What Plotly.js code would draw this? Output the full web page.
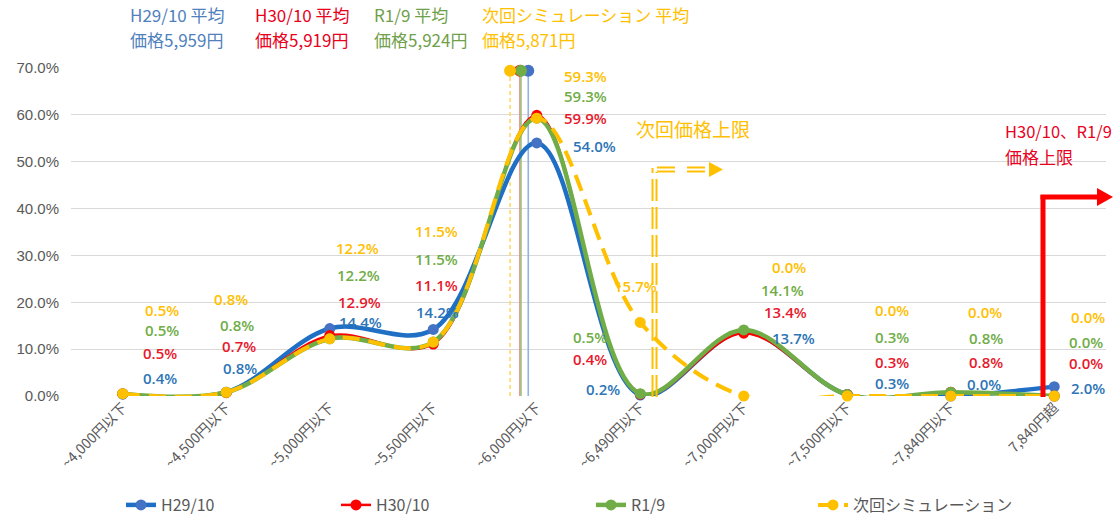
<!DOCTYPE html>
<html><head><meta charset="utf-8">
<script src="https://cdn.plot.ly/plotly-3.0.1.min.js"></script>
<style>html,body{margin:0;padding:0;background:#fff}#chart{width:1118px;height:516px}</style>
</head><body><div id="chart"></div>
<script>
// ---- data ----
const categories = ['~4,000円以下','~4,500円以下','~5,000円以下','~5,500円以下','~6,000円以下','~6,490円以下','~7,000円以下','~7,500円以下','~7,840円以下','7,840円超'];
const binUpper = [4000,4500,5000,5500,6000,6490,7000,7500,7840];
const seriesNames = ['H29/10','H30/10','R1/9','次回シミュレーション'];
const h29 = [0.4,0.8,14.4,14.2,54.0,0.2,13.7,0.3,0.0,2.0];
const h30 = [0.5,0.7,12.9,11.1,59.9,0.4,13.4,0.3,0.8,0.0];
const r19 = [0.5,0.8,12.2,11.5,59.3,0.5,14.1,0.3,0.8,0.0];
const sim = [0.5,0.8,12.2,11.5,59.3,15.7,0.0,0.0,0.0,0.0];
const avgPrice = [5959,5919,5924,5871];
const avgLabelNames = ['H29/10 平均','H30/10 平均','R1/9 平均','次回シミュレーション 平均'];

// ---- styles / label placement (layout only) ----
const lineColors = ['#1F6FC5','#FF0000','#70AD47','#FFC000'];
const markerColors = ['#4472C4','#FF0000','#70AD47','#FFC000'];
const labelColors = ['#2E75B6','#E8192C','#70AD47','#FFC000'];
const avgTextColors = ['#4F81BD','#E8001C','#6FA04A','#FFC000'];
const avgLineColors = ['#8FB4E3','#F08080','#9CC781','#FFD966'];
const labelY = [
  [3.8,6.0,15.8,17.9,53.4,1.6,12.4,2.7,2.6,1.8],
  [9.2,10.7,20.1,23.7,59.3,7.8,17.9,7.2,7.3,7.0],
  [14.1,15.2,25.8,29.2,64.0,12.6,22.6,12.6,12.4,11.5],
  [18.4,20.7,31.6,35.2,68.2,23.5,27.5,18.3,18.0,16.8]
];
const labelDX = [
  [0.36,0.13,0.30,0.04,0.56,-0.36,0.48,0.43,0.32,0.33],
  [0.36,0.12,0.29,0.03,0.47,-0.49,0.40,0.43,0.34,0.31],
  [0.38,0.10,0.28,0.03,0.47,-0.49,0.37,0.43,0.34,0.31],
  [0.38,0.05,0.27,0.03,0.47,-0.05,0.44,0.43,0.33,0.33]
];

function pricePos(p){
  for(let i=1;i<binUpper.length;i++){
    if(p<=binUpper[i]) return (i-1)+(p-binUpper[i-1])/(binUpper[i]-binUpper[i-1]);
  }
  return binUpper.length-1;
}

// pixel -> paper helpers for decorations
const L=71, R=12, T=68, B=120, W=1118-L-R, H=516-T-B;
const px = p => (p-L)/W;
const py = p => (516-B-p)/H;

const xs = categories.map((c,i)=>i);
const allSeries = [h29,h30,r19,sim];
const widths = [4.5,2.5,4.5,4];
const legendIds = ['legend','legend2','legend3','legend4'];
const legendTextX = [163,378,633,855];
const traces = [];

// average price drop lines
avgPrice.forEach((p,k)=>{
  const pos = pricePos(p);
  traces.push({
    x:[pos,pos], y:[0,69.4], mode:'lines+markers', showlegend:false, hoverinfo:'skip',
    cliponaxis:false,
    line:{color:avgLineColors[k], width:1.6, dash: k===3?'4px,3px':'solid'},
    marker:{size:[0,12], color:markerColors[k], opacity:1, line:{width:0}}
  });
});

allSeries.forEach((s,k)=>{
  traces.push({
    x:xs, y:s, name:seriesNames[k], type:'scatter', mode:'lines+markers', legend:legendIds[k],
    line:{shape:'spline', smoothing:1, color:lineColors[k], width:widths[k], dash: k===3?'17px,9px':'solid'},
    marker:{size:11, color:markerColors[k]},
    cliponaxis:false
  });
});

// data labels (text from data)
const annotations = [];
allSeries.forEach((s,k)=>{
  s.forEach((v,i)=>{
    annotations.push({
      x:i+labelDX[k][i], y:labelY[k][i], xref:'x', yref:'y', showarrow:false,
      text:v.toFixed(1)+'%', xanchor:'center', yanchor:'middle',
      font:{family:'Open Sans, sans-serif', size:15, weight:600, color:labelColors[k]}
    });
  });
});

// average price texts at top
const avgTextX = [128,253,372,480];
avgPrice.forEach((p,k)=>{
  annotations.push({
    xref:'paper', yref:'paper', x:px(avgTextX[k]), y:py(15), xanchor:'left', yanchor:'middle',
    showarrow:false, text:avgLabelNames[k],
    font:{family:'Noto Sans CJK JP', size:17, color:avgTextColors[k]}
  });
  annotations.push({
    xref:'paper', yref:'paper', x:px(avgTextX[k]), y:py(40), xanchor:'left', yanchor:'middle',
    showarrow:false, text:'価格'+p.toLocaleString('en-US')+'円',
    font:{family:'Noto Sans CJK JP', size:17, color:avgTextColors[k]}
  });
});

annotations.push({
  xref:'paper', yref:'paper', x:px(634), y:py(128), xanchor:'left', yanchor:'middle', showarrow:false,
  text:'次回価格上限', font:{family:'Noto Sans CJK JP', size:19, color:'#FFC000'}
});
annotations.push({
  xref:'paper', yref:'paper', x:px(1003), y:py(131), xanchor:'left', yanchor:'middle', showarrow:false,
  text:'H30/10、R1/9', font:{family:'Noto Sans CJK JP', size:16.5, color:'#E8001C'}
});
annotations.push({
  xref:'paper', yref:'paper', x:px(1003), y:py(156), xanchor:'left', yanchor:'middle', showarrow:false,
  text:'価格上限', font:{family:'Noto Sans CJK JP', size:17, color:'#E8001C'}
});

const Y = '#FFC000';
const shapes = [
  // yellow double dashed L-arrow
  {type:'line', xref:'paper', yref:'paper', x0:px(652.5), x1:px(652.5), y0:py(397), y1:py(168), line:{color:Y, width:2, dash:'22px,6px'}},
  {type:'line', xref:'paper', yref:'paper', x0:px(656.5), x1:px(656.5), y0:py(397), y1:py(172), line:{color:Y, width:2, dash:'22px,6px'}},
  {type:'line', xref:'paper', yref:'paper', x0:px(657), x1:px(712), y0:py(167.5), y1:py(167.5), line:{color:Y, width:2, dash:'18px,12px'}},
  {type:'line', xref:'paper', yref:'paper', x0:px(657), x1:px(712), y0:py(171.5), y1:py(171.5), line:{color:Y, width:2, dash:'18px,12px'}},
  {type:'path', xref:'paper', yref:'paper',
   path:`M ${px(709)} ${py(162)} L ${px(723)} ${py(169.5)} L ${px(709)} ${py(177)} Z`, fillcolor:Y, line:{width:0}},
  // red L-arrow
  {type:'line', xref:'paper', yref:'paper', x0:px(1043), x1:px(1043), y0:py(397), y1:py(195), line:{color:'#FF0000', width:5}},
  {type:'line', xref:'paper', yref:'paper', x0:px(1040.5), x1:px(1099), y0:py(197), y1:py(197), line:{color:'#FF0000', width:5}},
  {type:'path', xref:'paper', yref:'paper',
   path:`M ${px(1097)} ${py(188)} L ${px(1113)} ${py(197)} L ${px(1097)} ${py(206)} Z`, fillcolor:'#FF0000', line:{width:0}}
];

const legendFont = {family:'Noto Sans CJK JP', size:16, color:'#595959'};
const layout = {
  width:1118, height:516,
  margin:{l:L, r:R, t:T, b:B, autoexpand:false},
  paper_bgcolor:'#fff', plot_bgcolor:'#fff',
  showlegend:true,
  xaxis:{range:[-0.5,9.5], tickmode:'array', tickvals:xs, ticktext:categories, tickangle:-45,
    showgrid:false, zeroline:false, showline:false, ticks:'',
    tickfont:{family:'Noto Sans CJK JP', size:14, color:'#595959'}},
  yaxis:{range:[0,70], dtick:10, tick0:0, tickformat:'.1f', ticksuffix:'%',
    showgrid:true, gridcolor:'#D9D9D9', gridwidth:1, zeroline:false, showline:false, ticks:'',
    ticklabelstandoff:11,
    tickfont:{family:'Liberation Sans, sans-serif', size:15, color:'#595959'}},
  annotations:annotations,
  shapes:shapes
};
legendIds.forEach((id,k)=>{
  layout[id] = {orientation:'h', x:px(legendTextX[k]-42), y:py(505), xanchor:'left', yanchor:'middle',
    bgcolor:'rgba(0,0,0,0)', font:legendFont};
});

Plotly.newPlot('chart', traces, layout, {displayModeBar:false, staticPlot:true});
</script>
</body></html>
